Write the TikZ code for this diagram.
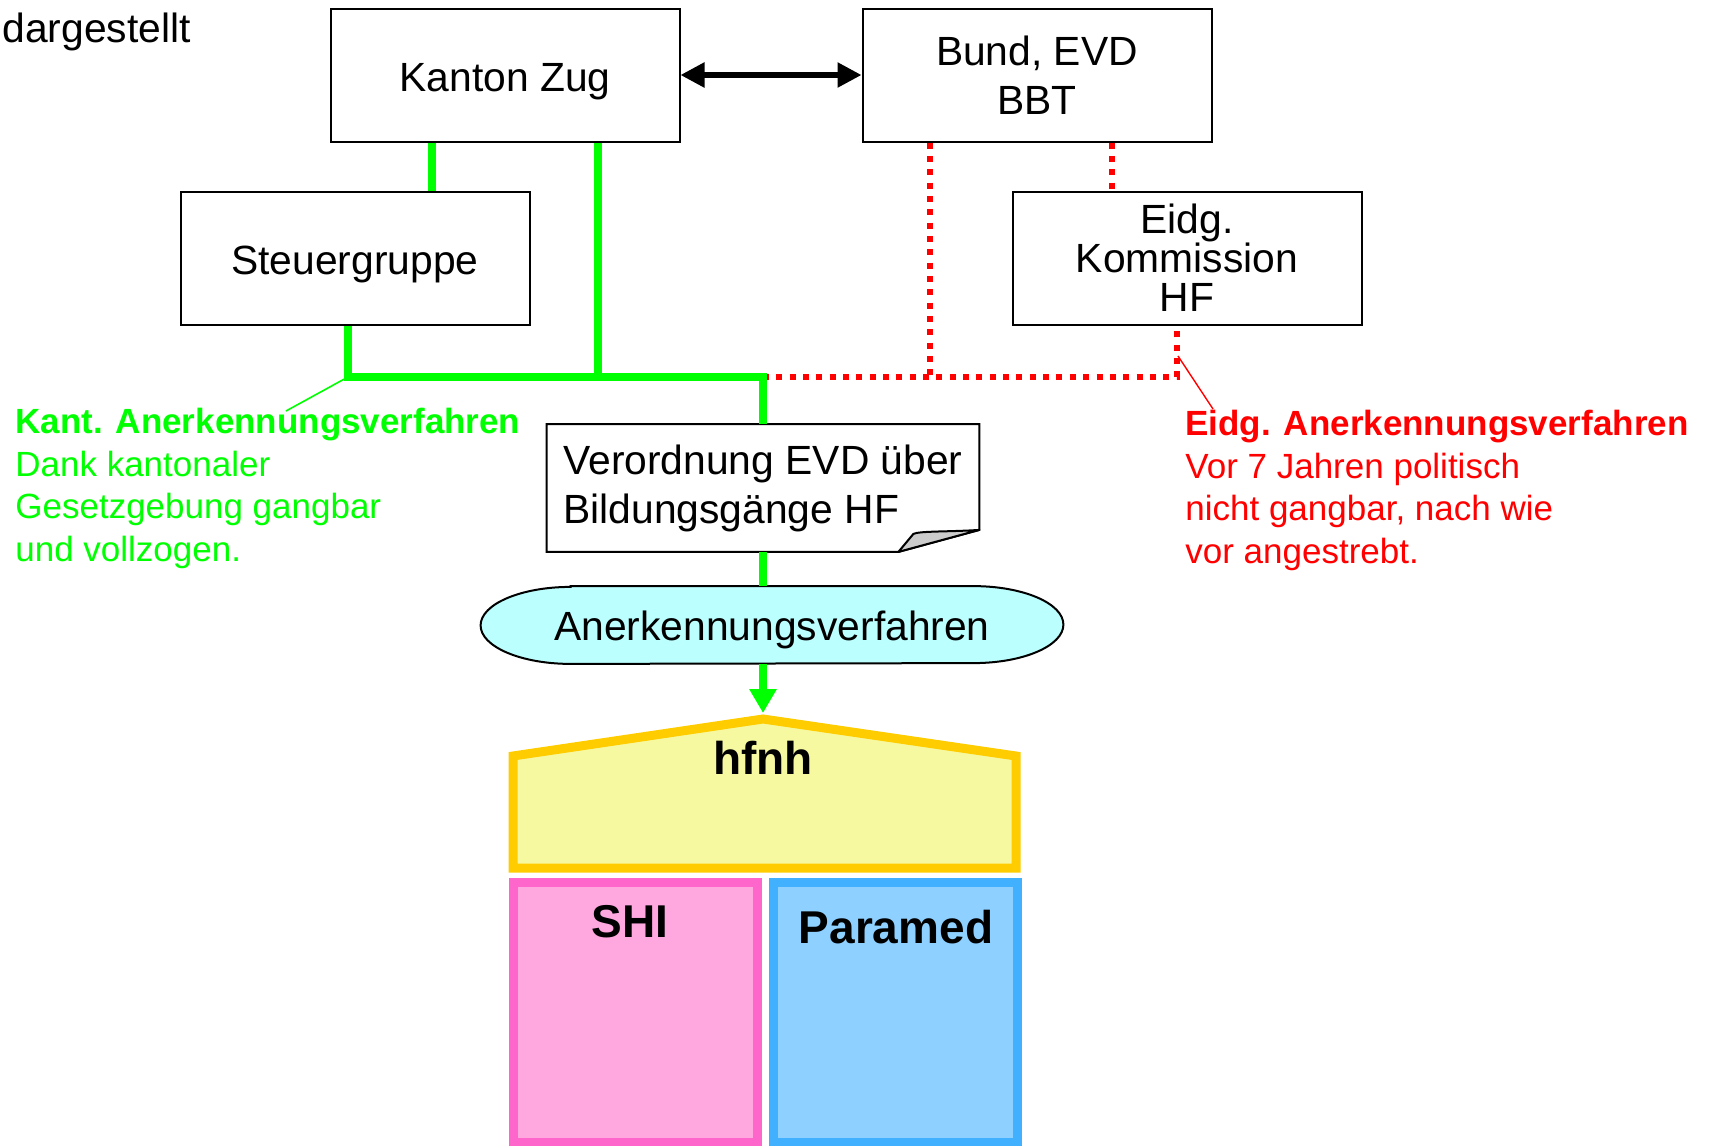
\documentclass[tikz,border=0pt]{standalone}
\usepackage{fontspec}
\setmainfont{Liberation Sans}
\usetikzlibrary{arrows.meta,backgrounds}
\definecolor{kantgreen}{RGB}{0,255,0}
\definecolor{eidgred}{RGB}{255,0,0}
\definecolor{verffill}{RGB}{187,255,255}
\definecolor{hfnhline}{RGB}{255,204,0}
\definecolor{hfnhfill}{RGB}{247,249,160}
\definecolor{shiline}{RGB}{255,102,204}
\definecolor{shifill}{RGB}{255,168,224}
\definecolor{paraline}{RGB}{64,176,255}
\definecolor{parafill}{RGB}{142,208,255}
\tikzset{
  orgbox/.style={draw,line width=1pt,minimum width=174.5pt,minimum height=66.5pt,
    align=center,font=\fontsize{20.4}{24.5}\selectfont},
  oneline/.style={text height=16.5pt,text depth=0pt},
  kline/.style={kantgreen,line width=3.8pt},
  eline/.style={eidgred,line width=3pt,dash pattern=on 3pt off 3.67pt},
  note/.style={anchor=north west,inner sep=0pt,align=left,font=\fontsize{17.5}{21.25}\selectfont},
  schule/.style={font=\fontsize{23}{27.6}\selectfont\bfseries},
}

\begin{document}
\begin{tikzpicture}[x=0.5pt,y=-0.5pt]
  \useasboundingbox (0,0) rectangle (1710,1146);

  \node[anchor=north west,inner sep=0pt,font=\fontsize{20.4}{24.5}\selectfont] (titel) at (2,13) {dargestellt};

  \node[orgbox,oneline] (kanton) at (505,75) {Kanton Zug};
  \node[orgbox] (bund) at (1037,75) {Bund, EVD\\BBT};
  \node[orgbox,oneline] (steuer) at (355,258) {Steuergruppe};
  \node[orgbox,font=\fontsize{20.4}{19.5}\selectfont] (kommission) at (1187,258) {Eidg.\\Kommission\\HF};

  \draw[{Triangle[length=12pt,width=12pt]}-{Triangle[length=12pt,width=12pt]},line width=2.7pt] (kanton) -- (bund);

  \node[minimum width=216pt,minimum height=63.5pt,align=left,
    font=\fontsize{20.4}{24.5}\selectfont] (vo) at (763,488) {Verordnung EVD über\\Bildungsgänge HF};
  \node[minimum width=291pt,minimum height=38.5pt,text height=15pt,text depth=0pt,
    font=\fontsize{20.4}{24.5}\selectfont] (verf) at (772,625) {Anerkennungsverfahren};
  \begin{scope}[on background layer]
    \draw[line width=1pt,fill=white] (vo.north west) -- (vo.north east) -- ([yshift=11pt]vo.south east)
      -- ([xshift=-40.5pt]vo.south east) -- (vo.south west) -- cycle;
    \draw[line width=1pt,fill=verffill] ([xshift=45pt]verf.north west) -- ([xshift=-45pt]verf.north east)
      arc[start angle=90,end angle=-90,x radius=45pt,y radius=19.25pt] -- ([xshift=45pt]verf.south west)
      arc[start angle=270,end angle=90,x radius=45pt,y radius=19.25pt] -- cycle;
  \end{scope}
  \filldraw[fill=gray!40,line width=1pt,line join=round] ([xshift=-40.5pt]vo.south east) -- ++(15,-18)
    .. controls +(6,-3) and +(-30,2) .. ([yshift=11pt]vo.south east) -- cycle;

  \coordinate (jL) at (348,377);
  \coordinate (jM) at (598,377);
  \coordinate (jR) at (763,377);
  \coordinate (rB) at (930,377);
  \coordinate (rK) at (1177,377);
  \coordinate (eidgfuss) at (1178,356);
  \coordinate (kantpin) at (286,411);
  \coordinate (eidgpin) at (1213,409);
  \coordinate (dach) at (763,713);

  \draw[eline] (bund.south -| rB) -- (rB);
  \draw[eline] ([xshift=-37.5pt]kommission.north |- bund.south) -- ([xshift=-37.5pt]kommission.north);
  \draw[eline] (jR) -- (rK) -- (kommission.south -| rK);
  \draw[eidgred,line width=0.7pt] (eidgfuss) -- (eidgpin);

  \draw[kline] ([xshift=38.5pt]steuer.north |- kanton.south) -- ([xshift=38.5pt]steuer.north);
  \draw[kline] (kanton.south -| jM) -- (jM);
  \draw[kline] (steuer.south -| jL) -- (jL) -- (jR) -- (vo.north);
  \draw[kline] (vo.south) -- (vo.south |- verf.north);
  \draw[kantgreen,line width=0.8pt] (jL) -- (kantpin);

  \node[note,text=kantgreen] (kanttext) at (15,408)
    {\textbf{Kant. Anerkennungsverfahren}\\Dank kantonaler\\Gesetzgebung gangbar\\und vollzogen.};
  \node[note,text=eidgred] (eidgtext) at (1185,410)
    {\textbf{Eidg. Anerkennungsverfahren}\\Vor 7 Jahren politisch\\nicht gangbar, nach wie\\vor angestrebt.};

  \filldraw[draw=hfnhline,fill=hfnhfill,line width=4.5pt] (513,868) -- (513,756) -- (763,719)
    -- (1016,756) -- (1016,868) -- cycle;
  \filldraw[draw=shiline,fill=shifill,line width=4.5pt] (513,882) rectangle (757,1142);
  \filldraw[draw=paraline,fill=parafill,line width=4.5pt] (773,882) rectangle (1017,1142);
  \draw[kline,-{Triangle[length=12pt,width=13pt]}] (vo.south |- verf.south) -- (dach);

  \node[schule] (hfnh) at (763,758) {hfnh};
  \node[schule] (shi) at (630,922) {SHI};
  \node[schule] (paramed) at (896,927) {Paramed};
\end{tikzpicture}
\end{document}
